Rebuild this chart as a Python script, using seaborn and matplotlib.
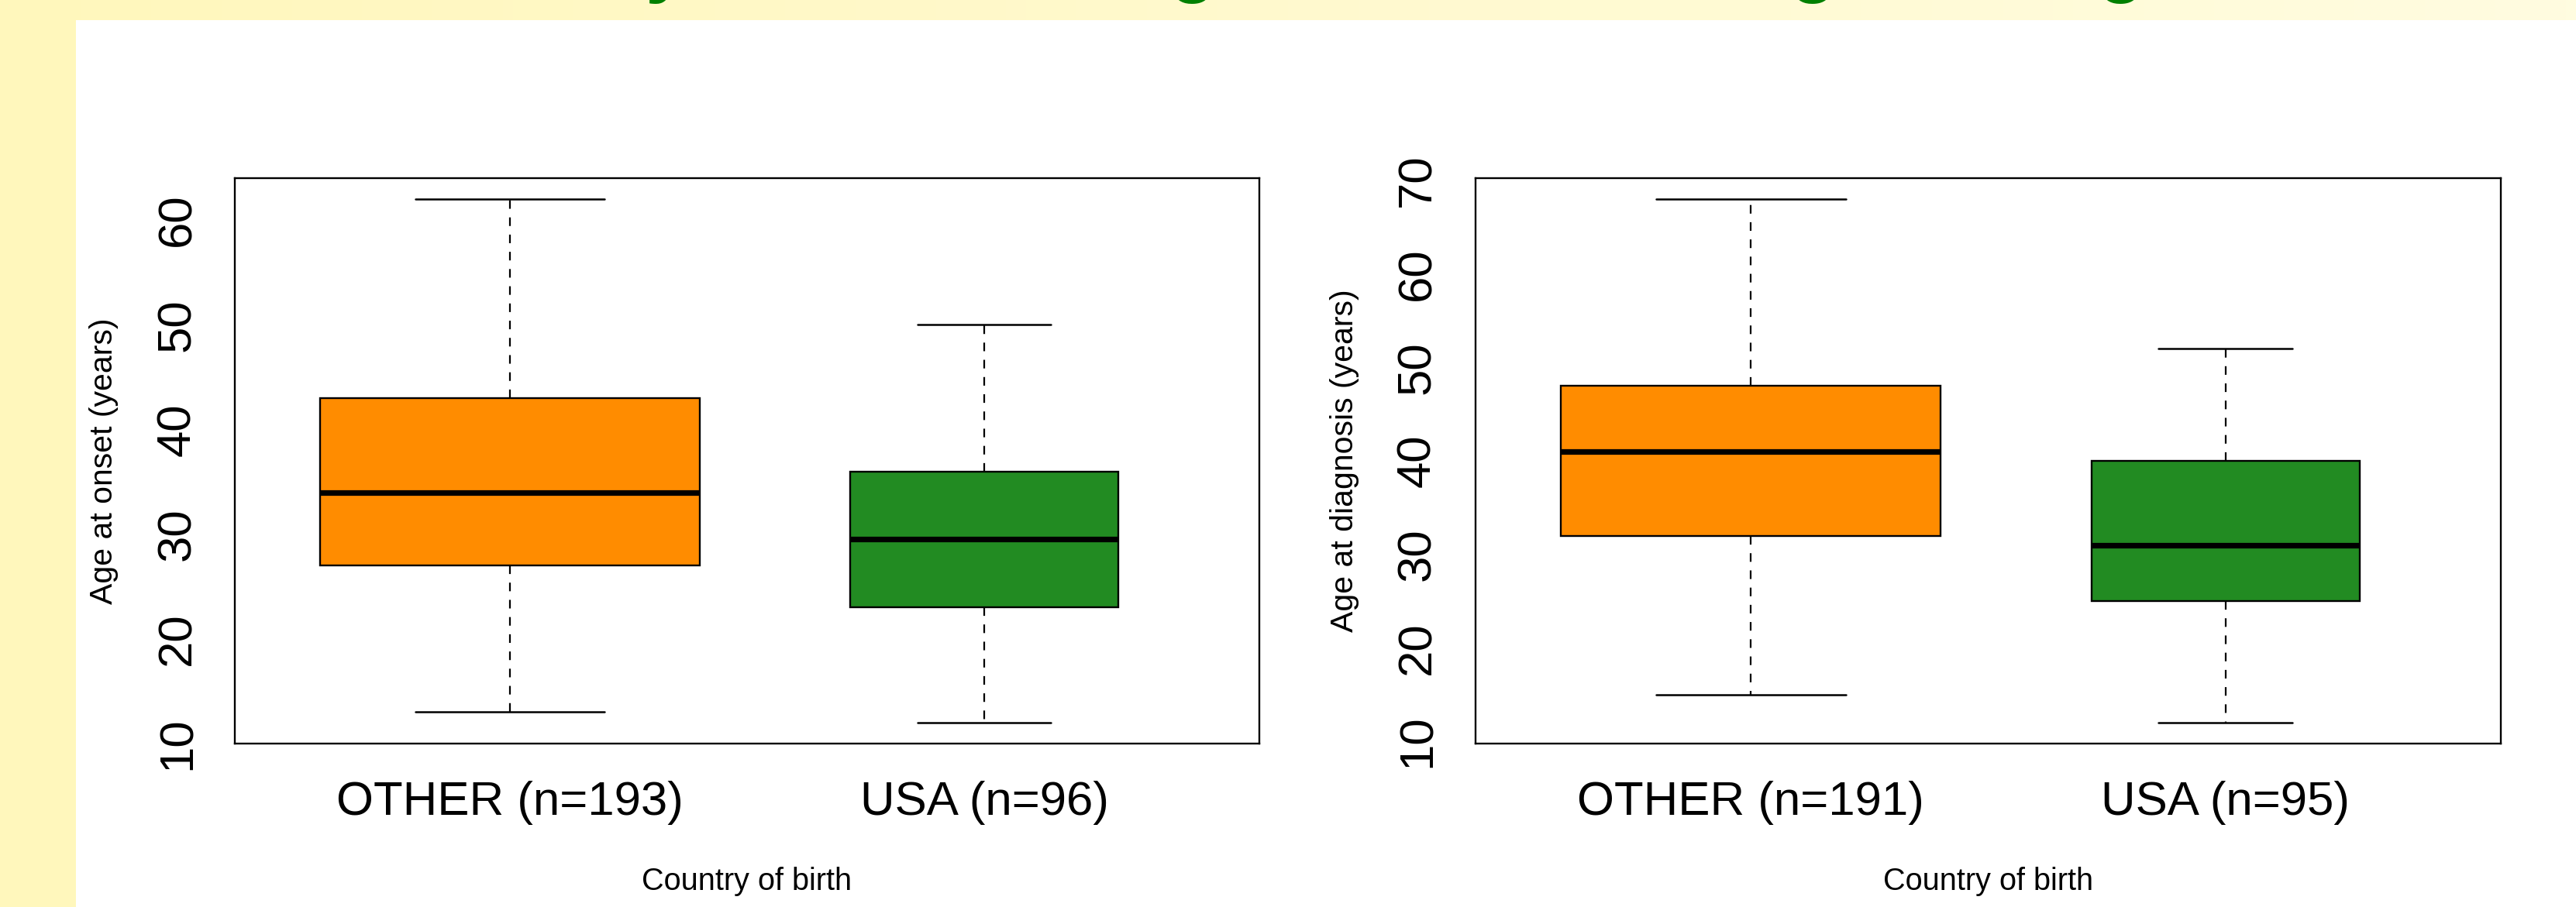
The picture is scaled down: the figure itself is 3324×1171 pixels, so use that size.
import numpy as np
import pandas as pd
import matplotlib
matplotlib.use("Agg")
import matplotlib.pyplot as plt
from matplotlib.patches import Rectangle
import seaborn as sns

# ---- data -------------------------------------------------------------
groups = ["OTHER", "USA"]
onset_n = [193, 96]
diag_n = [191, 95]

# five-number summaries: lower whisker, Q1, median, Q3, upper whisker
onset_other = [13, 27, 34, 43, 62]
onset_usa = [12, 23, 29.5, 36, 50]
diag_other = [15, 32, 41, 48, 68]
diag_usa = [12, 25, 31, 40, 52]

onset_ticks = [10, 20, 30, 40, 50, 60]
diag_ticks = [10, 20, 30, 40, 50, 60, 70]

box_colors = ["#FF8C00", "#228B22"]
title = "Country of birth vs. Age at onset and age at diagnosis"

# ---- style -------------------------------------------------------------
sns.set_style("white")
plt.rcParams["font.family"] = ["Liberation Sans", "DejaVu Sans"]

W, H, DPI = 3324, 1171, 100
fig = plt.figure(figsize=(W / DPI, H / DPI), dpi=DPI)

# slide background: pale yellow band with a white content area
bg = fig.add_axes([0, 0, 1, 1], zorder=-5)
left_col = np.array([255, 247, 188]) / 255
right_col = np.array([255, 252, 224]) / 255
t = np.linspace(0, 1, 256)[None, :, None]
grad = left_col[None, None, :] * (1 - t) + right_col[None, None, :] * t
bg.imshow(grad, extent=[0, 1, 0, 1], aspect="auto")
bg.add_patch(Rectangle((98 / W, 0), 1 - 98 / W, (H - 26) / H,
                       facecolor="white", edgecolor="none"))
bg.set_xlim(0, 1)
bg.set_ylim(0, 1)
bg.set_axis_off()

# slide heading, sitting mostly above the top edge of the page
fig.text(512 / W, 1 + 15 / H, title, fontsize=70.5, fontweight="bold",
         color="#008000", ha="left", va="baseline")

LW = 1.7


def draw_panel(ax, summaries, ns, ylabel, ticks, ypad):
    labels = [f"{g} (n={n})" for g, n in zip(groups, ns)]
    df = pd.DataFrame({
        "group": np.repeat(labels, [len(s) for s in summaries]),
        "age": np.concatenate([np.asarray(s, float) for s in summaries]),
    })
    max_n = max(ns)
    for lab, n, color in zip(labels, ns, box_colors):
        w = 0.8 * np.sqrt(n / max_n)  # box width proportional to sqrt(n)
        sns.boxplot(
            data=df[df["group"] == lab], x="group", y="age", order=labels,
            color=color, saturation=1, width=w, whis=(0, 100),
            linecolor="black", linewidth=LW, ax=ax,
            capwidths=0.5 * w,
            medianprops=dict(linewidth=5.2, color="black",
                             solid_capstyle="butt"),
            whiskerprops=dict(linestyle=(0, (5, 5)), linewidth=1.6),
            capprops=dict(linewidth=1.8),
        )
    lo = min(min(s) for s in summaries)
    hi = max(max(s) for s in summaries)
    span = hi - lo
    ax.set_ylim(lo - 0.04 * span, hi + 0.04 * span)
    ax.set_xlim(-0.58, 1.58)
    ax.set_yticks(ticks)
    ax.set_xticks(range(len(labels)))
    ax.set_xticklabels(labels)

    for sp in ax.spines.values():
        sp.set_visible(True)
        sp.set_color("black")
        sp.set_linewidth(LW)

    ax.tick_params(axis="both", direction="out", length=17.3, width=1.6,
                   color="black", labelsize=44.5, labelcolor="black")
    ax.tick_params(axis="x", pad=17)
    ax.tick_params(axis="y", pad=ypad, labelrotation=90)
    for lbl in ax.get_yticklabels():
        lbl.set_va("center")

    ax.set_xlabel("Country of birth", fontsize=28.5, color="black")
    ax.set_ylabel(ylabel, fontsize=29.5, color="black")
    ax.xaxis.set_label_coords(0.5, (H - 1138 - 211) / 730)
    ax.xaxis.label.set_va("center")
    ax.yaxis.set_label_coords(-169 / 1322, 0.5)
    ax.yaxis.label.set_va("center")
    ax.yaxis.label.set_ha("center")


ax1 = fig.add_axes([303 / W, 211 / H, 1322 / W, 730 / H])
ax2 = fig.add_axes([1904 / W, 211 / H, 1323 / W, 730 / H])

draw_panel(ax1, [onset_other, onset_usa], onset_n,
           "Age at onset (years)", onset_ticks, 14.8)
draw_panel(ax2, [diag_other, diag_usa], diag_n,
           "Age at diagnosis (years)", diag_ticks, 15.5)

fig.savefig("out.png", dpi=DPI)
